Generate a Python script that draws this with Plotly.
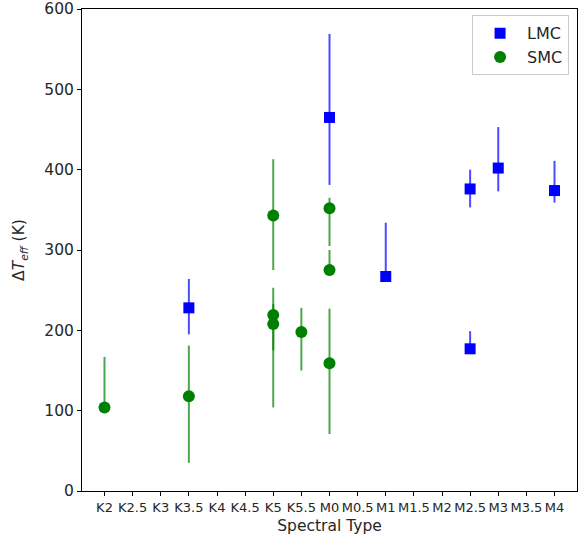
import plotly.graph_objects as go

spectral_types = ["K2", "K2.5", "K3", "K3.5", "K4", "K4.5", "K5", "K5.5", "M0",
                  "M0.5", "M1", "M1.5", "M2", "M2.5", "M3", "M3.5", "M4"]

lmc_type = ["K3.5", "M0", "M1", "M2.5", "M2.5", "M3", "M4"]
lmc_dteff = [228, 465, 267, 376, 177, 402, 374]
lmc_err_plus = [36, 104, 67, 24, 22, 51, 37]
lmc_err_minus = [33, 84, 4, 23, 4, 29, 15]

smc_type = ["K2", "K3.5", "K5", "K5", "K5", "K5.5", "M0", "M0", "M0"]
smc_dteff = [104, 118, 343, 219, 208, 198, 352, 275, 159]
smc_err_plus = [63, 63, 70, 34, 25, 30, 13, 25, 68]
smc_err_minus = [4, 83, 68, 44, 104, 48, 47, 4, 88]

idx = {t: i for i, t in enumerate(spectral_types)}
font = "DejaVu Sans, Arial, sans-serif"

fig = go.Figure()
fig.add_trace(go.Scatter(
    x=[idx[t] for t in lmc_type], y=lmc_dteff, mode="markers", name="LMC",
    marker=dict(symbol="square", size=11, color="#0000ff"),
    error_y=dict(type="data", array=lmc_err_plus, arrayminus=lmc_err_minus,
                 color="rgba(0,0,255,0.7)", thickness=2, width=0),
))
fig.add_trace(go.Scatter(
    x=[idx[t] for t in smc_type], y=smc_dteff, mode="markers", name="SMC",
    marker=dict(symbol="circle", size=12, color="#008000"),
    error_y=dict(type="data", array=smc_err_plus, arrayminus=smc_err_minus,
                 color="rgba(0,128,0,0.7)", thickness=2, width=0),
))

fig.update_layout(
    width=585, height=540,
    margin=dict(l=82, r=8, t=9, b=49, autoexpand=False),
    plot_bgcolor="white", paper_bgcolor="white",
    font=dict(family=font, color="#262626"),
    showlegend=True,
    legend=dict(x=0.984, y=0.987, xanchor="right", yanchor="top",
                bgcolor="rgba(255,255,255,0.8)", bordercolor="#cccccc", borderwidth=1,
                font=dict(size=16, family=font), itemwidth=44, tracegroupgap=2),
)
fig.update_xaxes(
    range=[-0.8, 16.8], tickmode="array", tickvals=list(range(len(spectral_types))),
    ticktext=spectral_types, tickfont=dict(size=13, family=font), tickangle=0,
    ticks="outside", ticklen=4, tickcolor="black", automargin=False,
    showline=True, linecolor="black", linewidth=1, mirror=True, showgrid=False, zeroline=False,
    title=dict(text="Spectral Type", font=dict(size=15.5, family=font), standoff=6),
)
fig.update_yaxes(
    range=[0, 600], tickvals=[0, 100, 200, 300, 400, 500, 600],
    tickfont=dict(size=15.5, family=font), automargin=False,
    ticks="outside", ticklen=4, tickcolor="black",
    showline=True, linecolor="black", linewidth=1, mirror=True, showgrid=False, zeroline=False,
    title=dict(text="Δ<i>T</i><sub><i>eff</i></sub> (K)", font=dict(size=15.5, family=font)),
)

fig.write_html("out.html", config={"displayModeBar": False},
               post_script="document.body.style.margin='0px';")
